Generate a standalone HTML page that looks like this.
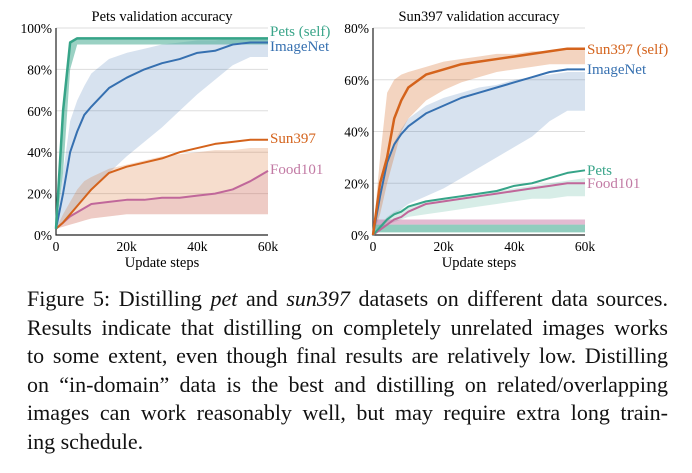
<!DOCTYPE html>
<html><head><meta charset="utf-8"><style>
body{margin:0;background:#fff;width:692px;height:473px;overflow:hidden;font-family:"Liberation Serif",serif}
svg{position:absolute;left:0;top:0}
#cap{position:absolute;left:27px;top:285px;width:641px;font-size:22px;line-height:28.6px;color:#111}
#cap div{text-align:justify;text-align-last:justify;white-space:nowrap}
#cap div.last{text-align-last:left}
</style></head><body>
<svg id="chart" width="692" height="280"></svg>
<div id="cap">
<div>Figure 5: Distilling <i>pet</i> and <i>sun397</i> datasets on different data sources.</div>
<div>Results indicate that distilling on completely unrelated images works</div>
<div>to some extent, even though final results are relatively low. Distilling</div>
<div>on “in-domain” data is the best and distilling on related/overlapping</div>
<div>images can work reasonably well, but may require extra long train-</div>
<div class="last">ing schedule.</div>
</div>
<script>
const steps=[0,2,4,6,8,10,15,20,25,30,35,40,45,50,55,60];
// left: Pets validation
const L_pets=[3,60,93,95,95,95,95,95,95,95,95,95,95,95,95,95];
const L_imnet=[3,20,40,50,58,62,71,76,80,83,85,88,89,92,93,93];
const L_sun=[3,6,10,14,18,22,30,33,35,37,40,42,44,45,46,46];
const L_food=[3,6,9,11,13,15,16,17,17,18,18,19,20,22,26,31];
const L_pets_lo=[3,30,80,92,92,92,92,92,92,92,92,92,92,92,92,92];
const L_imnet_lo=[3,6,10,14,18,22,30,38,45,52,60,68,75,82,86,86];
const L_imnet_hi=[3,30,55,65,72,78,85,88,90,92,93,94,94,95,95,95];
const L_sun_lo=[3,4,5,6,7,8,9,10,10,10,10,10,10,10,10,10];
const L_sun_hi=[3,10,16,22,26,28,32,34,36,38,39,40,41,41,42,42];
// right: Sun397 validation
const R_sun=[0,20,30,45,52,57,62,64,66,67,68,69,70,71,72,72];
const R_imnet=[0,15,28,35,39,42,47,50,53,55,57,59,61,63,64,64];
const R_pets=[0,3,6,8,9,11,13,14,15,16,17,19,20,22,24,25];
const R_food=[0,2,4,6,7,9,12,13,14,15,16,17,18,19,20,20];
const R_sun_lo=[0,8,20,30,40,45,52,56,59,61,63,64,65,66,66,66];
const R_sun_hi=[0,30,55,60,62,63,65,67,68,69,70,70,71,71,72,72];
const R_imnet_lo=[0,2,5,8,10,12,15,18,22,26,30,34,38,44,48,48];
const R_imnet_hi=[0,15,28,36,41,45,50,53,55,57,58,60,61,62,63,63];
const R_pets_lo=[0,2,4,5,6,7,8,9,10,11,12,13,14,14,15,15];
const R_pets_hi=[0,4,7,9,10,11,13,14,15,16,17,18,19,20,21,22];

const C={g:"#36a488",b:"#3670b0",o:"#d4631c",p:"#c0679a"};
const svg=document.getElementById('chart');const NS="http://www.w3.org/2000/svg";
function mk(t,a,p){const e=document.createElementNS(NS,t);for(const k in a)e.setAttribute(k,a[k]);(p||svg).appendChild(e);return e;}
function panel(x0,x1,y0,y1,ymax,yticks,title,name){
  const sx=v=>x0+(x1-x0)*v/60, sy=v=>y0-(y0-y1)*v/ymax;
  const g=mk('g',{});
  
  
  yticks.forEach(t=>{
    if(t>0){const l=mk('line',{x1:x0,x2:x1,y1:sy(t),y2:sy(t),stroke:"#ddd","stroke-width":1},g);
    }
    const tx=mk('text',{x:x0-4,y:sy(t)+5,"text-anchor":"end","font-size":13.5},g);tx.textContent=t+"%";
    
  });
  [0,20,40,60].forEach(t=>{const tx=mk('text',{x:sx(t),y:y0+16,"text-anchor":"middle","font-size":13.5},g);tx.textContent=t?t+"k":"0";
    });
  const xt=mk('text',{x:(x0+x1)/2,y:y0+32,"text-anchor":"middle","font-size":14.5},g);xt.textContent="Update steps";
  
  const tt=mk('text',{x:(x0+x1)/2,y:y1-7,"text-anchor":"middle","font-size":14.5},g);tt.textContent=title;
  
  const ax=mk('path',{d:`M${x0},${y1}V${y0}H${x1}`,stroke:"#222",fill:"none","stroke-width":1.2},g);
  
  return {g,sx,sy};
}
function band(P,lo,hi,c,op,name){
  let d="M"+steps.map((s,i)=>P.sx(s)+","+P.sy(hi[i])).join("L");
  d+="L"+steps.map((s,i)=>P.sx(s)+","+P.sy(lo[i])).reverse().join("L")+"Z";
  const e=mk('path',{d,fill:c,opacity:op},P.g);
  
}
function line(P,v,c,w,name){
  const e=mk('polyline',{points:steps.map((s,i)=>P.sx(s)+","+P.sy(v[i])).join(" "),fill:"none",stroke:c,"stroke-width":w,"stroke-linejoin":"round"},P.g);
  
}
function lab(P,x,y,t,c,name){const e=mk('text',{x,y,"font-size":15,fill:c},P.g);e.textContent=t;
  }

const A=panel(56,268,235,28,100,[0,20,40,60,80,100],"Pets validation accuracy","pets-chart");
band(A,L_imnet_lo,L_imnet_hi,C.b,0.2,"imagenet-band");
band(A,L_sun_lo,L_sun_hi,C.o,0.22,"sun397-band");
band(A,L_sun_lo,L_food,C.p,0.15,"food101-band");
band(A,L_pets_lo,L_pets,C.g,0.5,"pets-band");
line(A,L_food,C.p,2,"food101-line");
line(A,L_sun,C.o,2,"sun397-line");
line(A,L_imnet,C.b,2,"imagenet-line");
line(A,L_pets,C.g,2.5,"pets-self-line");
lab(A,270,36,"Pets (self)","#3aa58a","legend-pets-self");
lab(A,270,51,"ImageNet",C.b,"legend-imagenet");
lab(A,270,143,"Sun397",C.o,"legend-sun397");
lab(A,270,174,"Food101","#c27aa4","legend-food101");

const B=panel(373,585,235,28,80,[0,20,40,60,80],"Sun397 validation accuracy","sun397-chart");
band(B,R_imnet_lo,R_imnet_hi,C.b,0.2,"imagenet-band");
band(B,R_sun_lo,R_sun_hi,C.o,0.28,"sun397-band");
band(B,R_pets_lo,R_pets_hi,C.g,0.2,"pets-band");
const flatLo=steps.map(()=>1),flatHi=steps.map(()=>4),flatP=steps.map(()=>6);
band(B,flatHi,flatP,C.p,0.45,"food101-flat-band");
band(B,flatLo,flatHi,C.g,0.55,"pets-flat-band");
line(B,R_food,C.p,2,"food101-line");
line(B,R_pets,C.g,2,"pets-line");
line(B,R_imnet,C.b,2,"imagenet-line");
line(B,R_sun,C.o,2.5,"sun397-self-line");
lab(B,587,54,"Sun397 (self)",C.o,"legend-sun397-self");
lab(B,587,74,"ImageNet",C.b,"legend-imagenet");
lab(B,587,175,"Pets","#3aa58a","legend-pets");
lab(B,587,188,"Food101","#c27aa4","legend-food101");
</script>
</body></html>
